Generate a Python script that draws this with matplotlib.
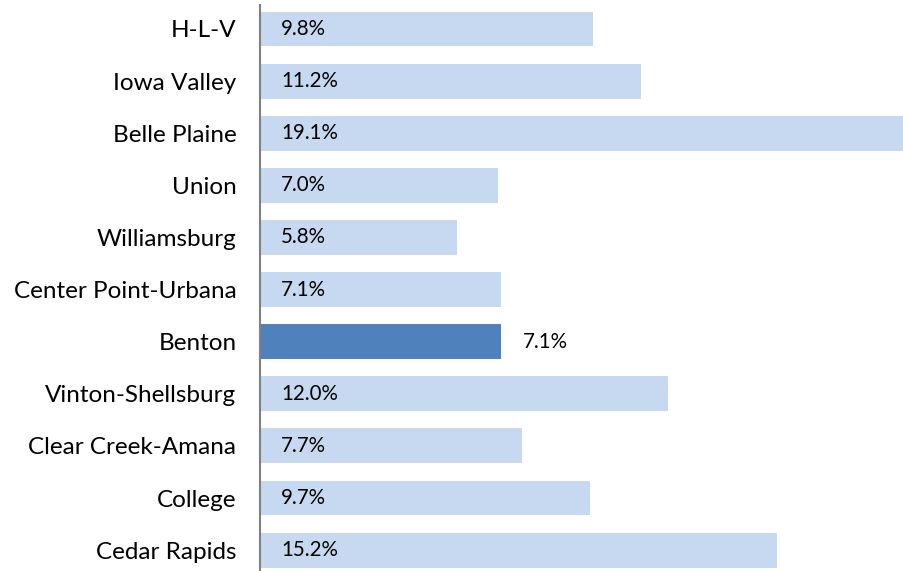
import matplotlib.pyplot as plt

plt.rcParams['font.family'] = ['Lato', 'DejaVu Sans']

districts = ["H-L-V", "Iowa Valley", "Belle Plaine", "Union", "Williamsburg",
             "Center Point-Urbana", "Benton", "Vinton-Shellsburg",
             "Clear Creek-Amana", "College", "Cedar Rapids"]
pct = [9.8, 11.2, 19.1, 7.0, 5.8, 7.1, 7.1, 12.0, 7.7, 9.7, 15.2]
highlight = "Benton"

light = "#C6D9F1"
dark = "#4F81BD"

fig = plt.figure(figsize=(9.04, 5.71), dpi=100)
ax = fig.add_axes([260 / 904, 0, 644 / 904, 566 / 571])

ypos = list(range(len(districts)))
colors = [dark if d == highlight else light for d in districts]
ax.barh(ypos, pct, height=0.67, color=colors, edgecolor="none")

off = 0.62
for y, d, v in zip(ypos, districts, pct):
    x = v + off if d == highlight else off
    ax.text(x, y, f"{v:.1f}%", va="center", ha="left", fontsize=14.8, color="black")

ax.set_xlim(0, 18.94)
ax.set_ylim(10.4, -0.46)
ax.set_yticks(ypos)
ax.set_yticklabels(districts, fontsize=17.5)
ax.tick_params(axis="y", length=0, pad=17)
ax.set_xticks([])
for s in ["top", "right", "bottom"]:
    ax.spines[s].set_visible(False)
ax.spines["left"].set_color("#808080")
ax.spines["left"].set_linewidth(1.5)

fig.savefig("out.png", dpi=100)
